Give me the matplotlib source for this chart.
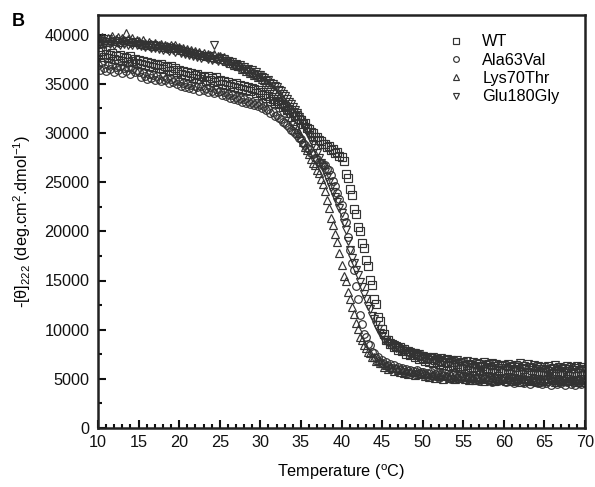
import numpy as np
import matplotlib
matplotlib.use("Agg")
import matplotlib.pyplot as plt
from matplotlib.ticker import MultipleLocator

plt.rcParams['font.family'] = ['Liberation Sans', 'DejaVu Sans']
plt.rcParams['mathtext.fontset'] = 'custom'
plt.rcParams['mathtext.rm'] = 'Liberation Sans'
plt.rcParams['mathtext.it'] = 'Liberation Sans:italic'
plt.rcParams['mathtext.bf'] = 'Liberation Sans:bold'

# Temperature grid (deg C), 0.25 deg steps from 10 to 70
temperature = np.arange(10.0, 70.001, 0.25)

wt = [
    38200, 37900, 38300, 37700, 38000, 37600, 37900, 38100, 37500, 37800, 37400, 37900, 37300, 37700, 37600, 37200, 37800, 37300, 37500, 37100,
    37400, 37000, 37300, 36900, 37200, 36800, 37100, 36700, 37000, 36900, 36600, 37000, 36500, 36800, 36700, 36300, 36800, 36400, 36600, 36200,
    36400, 36000, 36300, 35900, 36200, 35800, 36100, 35600, 35900, 36000, 35500, 35800, 35700, 35300, 35800, 35400, 35600, 35200, 35700, 35300,
    35400, 35000, 35300, 34900, 35200, 34800, 35000, 34700, 35100, 34600, 34900, 34500, 34800, 34400, 34700, 34300, 34600, 34500, 34100, 34400,
    34200, 33900, 34000, 33600, 33800, 33300, 33500, 33100, 33300, 32900, 33000, 32600, 32700, 32300, 32400, 32000, 32100, 31700, 31800, 31400,
    31300, 30900, 31000, 30500, 30400, 30100, 30000, 29600, 29600, 29300, 29200, 28900, 28900, 28600, 28700, 28300, 28400, 28000, 28100, 27700,
    27600, 27200, 25800, 25400, 24300, 23700, 22300, 21800, 20400, 20000, 18800, 18300, 17100, 16500, 15100, 14500, 13100, 12600, 11300, 10900,
    10100, 9600, 9000, 8900, 8500, 8500, 8200, 8300, 7900, 8200, 7800, 8000, 7500, 7800, 7400, 7600, 7200, 7400, 7000, 7300,
    7100, 6800, 7000, 6700, 7100, 6600, 6900, 6700, 6500, 6800, 6400, 6700, 6600, 6300, 6700, 6400, 6200, 6500, 6300, 6100,
    6300, 6000, 6400, 5900, 6200, 6100, 5800, 6200, 5900, 6300, 5800, 6000, 6100, 5700, 6000, 5900, 5600, 6100, 5800, 5900,
    5900, 5600, 6000, 5500, 5800, 5900, 5400, 5800, 5700, 5500, 6000, 5600, 5700, 5400, 5900, 5600, 5500, 5800, 5400, 5700,
    5700, 5400, 5800, 5500, 5600, 5300, 5800, 5500, 5700, 5400, 5600, 5800, 5300, 5600, 5500, 5700, 5300, 5600, 5800, 5400,
    5500,
]

ala63val = [
    36900, 36400, 37200, 36600, 36300, 36900, 36500, 37000, 36200, 36700, 36400, 36800, 36100, 36600, 36300, 36700, 36000, 36500, 36200, 36400,
    36200, 35700, 36100, 35800, 35500, 36000, 35600, 35900, 35400, 35800, 35500, 35300, 35800, 35400, 35600, 35100, 35500, 35200, 35400, 35000,
    35300, 34800, 35100, 34700, 35000, 34600, 34900, 34500, 34800, 34700, 34300, 34800, 34400, 34600, 34200, 34700, 34300, 34100, 34500, 34200,
    34300, 33900, 34200, 33800, 34000, 33600, 33900, 33500, 33700, 33400, 33600, 33200, 33500, 33100, 33300, 33000, 33200, 32800, 33100, 32700,
    32900, 32500, 32700, 32300, 32400, 32000, 32100, 31700, 31800, 31500, 31400, 31100, 31000, 30800, 30600, 30300, 30200, 30000, 29800, 29500,
    29400, 29000, 28800, 28500, 28400, 28000, 27900, 27500, 27400, 27100, 27000, 26700, 26700, 26300, 26200, 25700, 25100, 24600, 23900, 23300,
    22700, 21600, 20900, 19400, 18100, 16800, 16100, 14400, 13100, 11500, 10600, 9600, 9300, 8500, 8400, 7700, 7600, 7100, 7200, 6700,
    6900, 6500, 6700, 6300, 6500, 6100, 6400, 6000, 6200, 5900, 6100, 5700, 6000, 5600, 5900, 5800, 5500, 5900, 5600, 5700,
    5700, 5400, 5600, 5200, 5700, 5300, 5500, 5600, 5100, 5500, 5300, 5600, 5200, 5400, 5000, 5500, 5300, 5100, 5400, 5200,
    5400, 5000, 5300, 5100, 4900, 5400, 5100, 5200, 4800, 5300, 5000, 5200, 4900, 5100, 4700, 5200, 5000, 4800, 5100, 4900,
    5100, 4700, 5000, 4800, 5200, 4600, 4900, 5000, 4700, 5100, 4600, 4900, 4800, 4500, 5000, 4700, 4900, 4600, 4800, 4500,
    4900, 4600, 4800, 4400, 4900, 4700, 4500, 4800, 4600, 4900, 4400, 4700, 4800, 4500, 4700, 4400, 4800, 4600, 4500, 4700,
    4600,
]

lys70thr = [
    39700, 39400, 39800, 39500, 39300, 39700, 39500, 39900, 39400, 39600, 39800, 39300, 39700, 39500, 40200, 39600, 39400, 39700, 39300, 39500,
    39400, 39100, 39500, 39200, 39000, 39300, 39100, 38800, 39200, 39000, 38900, 39100, 38700, 39000, 38800, 38600, 39000, 38700, 38900, 38600,
    38700, 38400, 38600, 38300, 38500, 38200, 38400, 38100, 38300, 38000, 38200, 37900, 38100, 37800, 38000, 37900, 37700, 38000, 37600, 37800,
    37800, 37500, 37700, 37300, 37400, 37100, 37300, 36900, 37000, 36800, 36900, 36500, 36600, 36300, 36500, 36100, 36200, 35900, 36000, 35700,
    35800, 35500, 35400, 35200, 35000, 34800, 34500, 34300, 34000, 33700, 33400, 33100, 32800, 32400, 32000, 31600, 31200, 30800, 30400, 30000,
    29600, 29100, 28600, 28300, 27900, 27400, 27000, 26700, 26200, 25900, 25300, 24800, 24100, 23200, 22400, 21400, 20600, 19700, 18900, 17800,
    16600, 15500, 14900, 13800, 13100, 12300, 11600, 10700, 10100, 9300, 8900, 8400, 8100, 7700, 7600, 7200, 7200, 6800, 6900, 6600,
    6600, 6200, 6400, 6000, 6200, 6100, 5800, 6100, 5900, 5700, 6000, 5600, 5900, 5500, 5800, 5700, 5400, 5800, 5500, 5600,
    5600, 5300, 5500, 5200, 5600, 5400, 5100, 5500, 5300, 5400, 5000, 5400, 5300, 5100, 5400, 5200, 5000, 5300, 5100, 5300,
    5300, 5000, 5200, 4900, 5300, 5100, 4900, 5200, 5000, 5100, 4800, 5200, 5000, 4900, 5200, 4800, 5100, 5000, 4900, 5100,
    5100, 4800, 5000, 5200, 4800, 5000, 4900, 5100, 4700, 5000, 5100, 4800, 5000, 4900, 5200, 4800, 5000, 4700, 5100, 4900,
    5100, 4800, 5000, 5200, 4900, 4700, 5100, 4900, 5000, 4800, 5200, 4900, 4800, 5100, 4900, 5000, 4700, 5100, 4900, 5000,
    5000,
]

glu180gly = [
    39500, 39200, 39400, 39000, 39300, 39600, 39100, 39300, 38900, 39400, 39200, 39000, 39300, 39100, 39400, 38900, 39200, 39000, 39300, 38900,
    39100, 38800, 39000, 38700, 38900, 38800, 38600, 38900, 38600, 38800, 38500, 38700, 38400, 38700, 38500, 38300, 38600, 38400, 38200, 38500,
    38400, 38100, 38300, 38000, 38200, 37900, 38100, 37800, 38000, 37700, 37900, 37600, 37800, 37700, 37500, 37800, 37400, 38900, 37500, 37300,
    37600, 37300, 37500, 37100, 37300, 37000, 37200, 36800, 37000, 36700, 36900, 36500, 36700, 36300, 36500, 36200, 36400, 36000, 36200, 35900,
    35900, 35700, 35600, 35300, 35400, 35100, 35000, 34800, 34700, 34400, 34300, 34000, 33800, 33500, 33200, 32900, 32600, 32300, 32000, 31600,
    31300, 30900, 30600, 30100, 29800, 29300, 28900, 28500, 28000, 27500, 27000, 26500, 26000, 25500, 25000, 24500, 24000, 23500, 23000, 22400,
    21900, 20800, 20100, 19000, 18100, 17300, 16800, 16100, 15600, 14800, 14300, 13600, 13100, 12400, 12100, 11400, 11100, 10500, 10100, 9700,
    9400, 9000, 8900, 8600, 8600, 8300, 8400, 8100, 8100, 7900, 8000, 7800, 7800, 7600, 7700, 7500, 7600, 7300, 7500, 7200,
    7300, 7000, 7200, 6900, 7100, 7200, 6800, 7000, 6900, 7100, 6700, 6900, 7000, 6600, 6900, 6800, 6500, 6900, 6600, 6700,
    6700, 6400, 6800, 6500, 6400, 6700, 6300, 6600, 6500, 6200, 6700, 6400, 6500, 6200, 6600, 6300, 6500, 6100, 6400, 6300,
    6400, 6100, 6500, 6200, 6300, 6000, 6400, 6200, 6600, 6100, 6300, 6000, 6500, 6200, 6100, 6400, 6000, 6300, 6200, 6000,
    6200, 5900, 6300, 6000, 6100, 6400, 5900, 6200, 6000, 6100, 5800, 6300, 6000, 6200, 5900, 6100, 6300, 5900, 6200, 6000,
    6000,
]

series_names = ['WT', 'Ala63Val', 'Lys70Thr', 'Glu180Gly']
series_values = [wt, ala63val, lys70thr, glu180gly]
markers = ['s', 'o', '^', 'v']

fig = plt.figure(figsize=(5.95, 4.87), dpi=100)
ax = fig.add_axes([98/595, 1 - 428/487, (585-98)/595, (428-15)/487])

edge = '#333333'
for name, vals, m in zip(series_names, series_values, markers):
    ax.plot(temperature, vals, linestyle='none', marker=m, markersize=5.5,
            markerfacecolor='none', markeredgecolor=edge, markeredgewidth=0.85,
            label=name)

ax.set_xlim(10, 70)
ax.set_ylim(0, 42000)
ax.xaxis.set_major_locator(MultipleLocator(5))
ax.xaxis.set_minor_locator(MultipleLocator(1))
ax.yaxis.set_major_locator(MultipleLocator(5000))
ax.yaxis.set_minor_locator(MultipleLocator(2500))
ax.tick_params(which='both', direction='in', top=False, right=False, width=1.5, labelsize=11.7, colors='#111111')
ax.tick_params(which='major', length=6)
ax.tick_params(axis='x', which='major', pad=5)
ax.tick_params(axis='y', which='major', pad=6)
ax.tick_params(which='minor', length=3)
for s in ax.spines.values():
    s.set_linewidth(1.8)
    s.set_color('#222222')

ax.set_xlabel('Temperature ($^{\\rm o}$C)', fontsize=11.7, labelpad=9)
ax.set_ylabel('-[θ]$_{222}$ (deg.cm$^{2}$.dmol$^{-1}$)', fontsize=11.7, labelpad=8)

fig.text(12/595, 1 - 22/487, 'B', fontsize=13, fontweight='bold', va='center', ha='left')

leg = ax.legend(loc='upper left', bbox_to_anchor=(440/595, 1 - 28/487),
                bbox_transform=fig.transFigure, frameon=False, fontsize=11.7,
                handlelength=1.2, handletextpad=1.0, labelspacing=0.2,
                markerscale=0.75, borderaxespad=0)

fig.savefig('out.png', dpi=100)
